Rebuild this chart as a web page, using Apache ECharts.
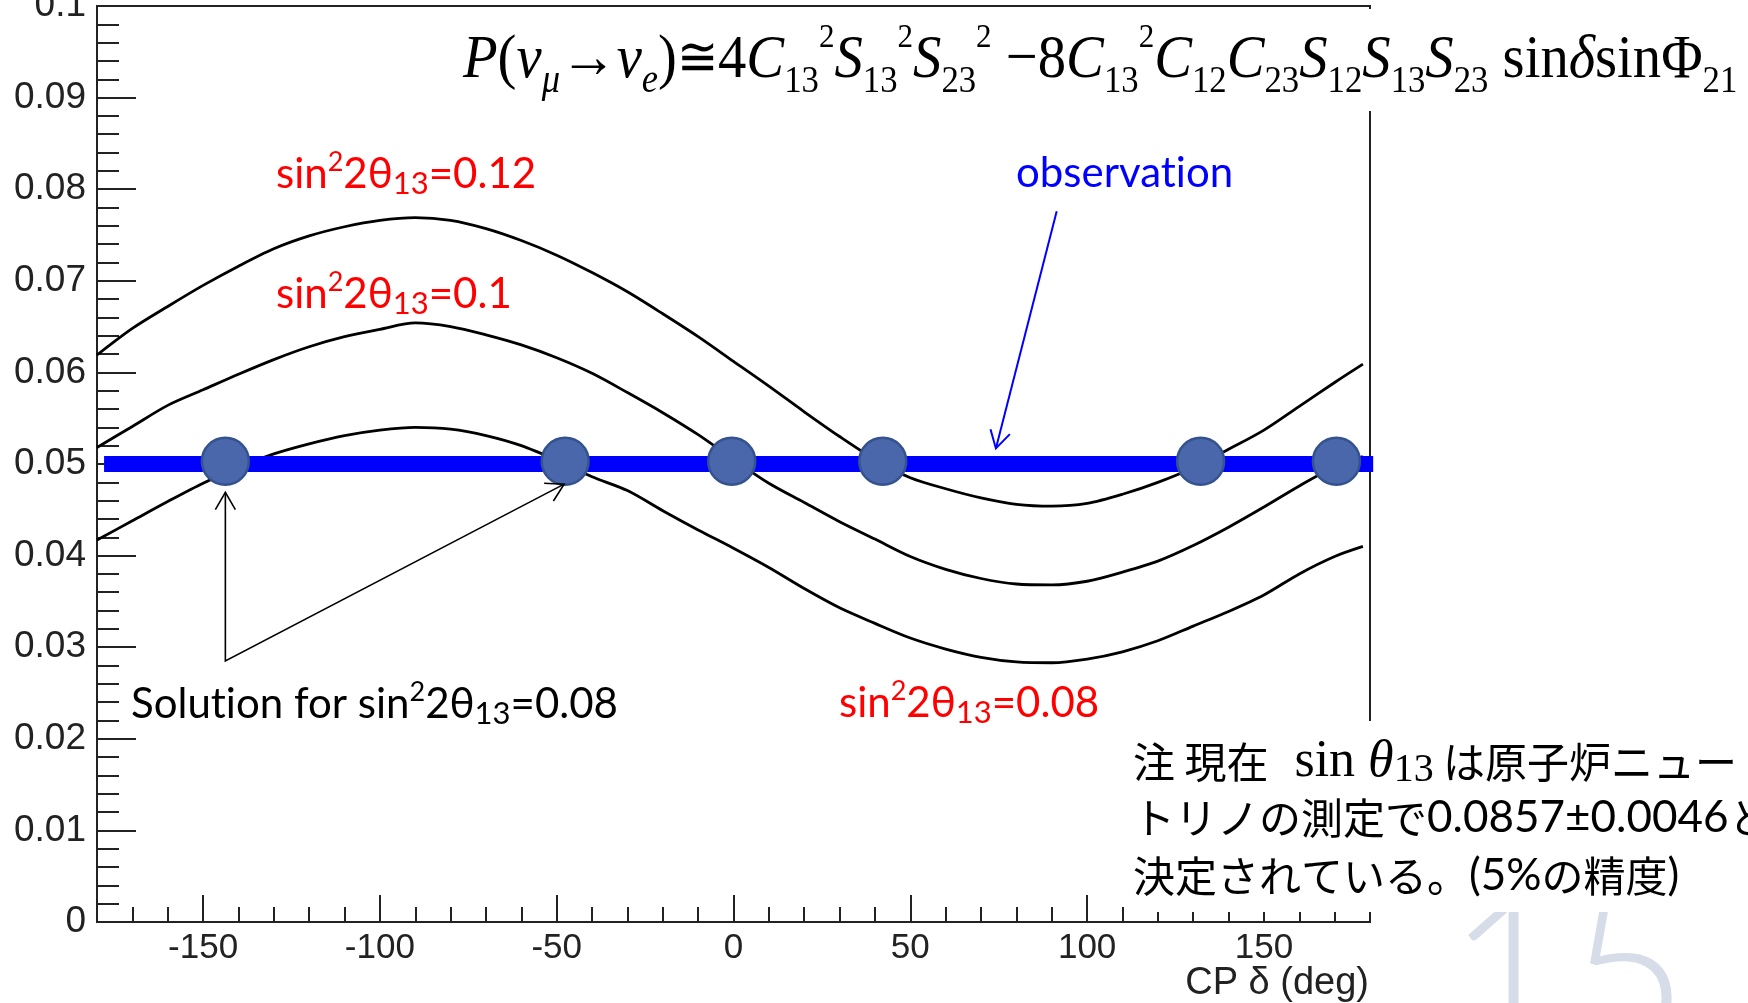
<!DOCTYPE html>
<html><head><meta charset="utf-8">
<script src="https://cdn.jsdelivr.net/npm/echarts@6/dist/echarts.min.js"></script>
<style>html,body{margin:0;padding:0;background:#fff;overflow:hidden}#c{width:1748px;height:1003px}</style>
</head><body><div id="c"></div>
<script>
// ---- data ----
const deltaDeg = [-180,-170,-160,-150,-140,-130,-120,-110,-100,-90,-80,-70,-60,-50,-40,-30,-20,-10,0,10,20,30,40,50,60,70,80,90,100,110,120,130,140,150,160,170,178];
const p012 = [0.0619,0.0648,0.0672,0.0695,0.0716,0.0735,0.0749,0.0759,0.0766,0.0769,0.0766,0.0757,0.0744,0.0728,0.0709,0.0688,0.0664,0.0639,0.0612,0.0585,0.0557,0.0530,0.0505,0.0485,0.0473,0.0463,0.0456,0.0454,0.0457,0.0467,0.0480,0.0496,0.0516,0.0537,0.0563,0.0589,0.0609];
const p010 = [0.0518,0.0541,0.0564,0.0581,0.0598,0.0614,0.0628,0.0639,0.0647,0.0654,0.0650,0.0641,0.0630,0.0616,0.0599,0.0578,0.0556,0.0532,0.0505,0.0479,0.0458,0.0437,0.0418,0.0399,0.0385,0.0375,0.0369,0.0368,0.0372,0.0382,0.0394,0.0411,0.0431,0.0453,0.0476,0.0497,0.0508];
const p008 = [0.0417,0.0438,0.0459,0.0479,0.0496,0.0511,0.0522,0.0531,0.0537,0.0540,0.0538,0.0531,0.0520,0.0504,0.0486,0.0471,0.0449,0.0428,0.0408,0.0387,0.0364,0.0343,0.0326,0.0310,0.0298,0.0289,0.0284,0.0283,0.0287,0.0295,0.0307,0.0323,0.0339,0.0357,0.0380,0.0399,0.0410];
const observedP = 0.05;
const observationSpan = [-178, 180.9];
const solutionDelta = [-143.7, -47.6, -0.5, 42.2, 132.1, 170.5];
const solutionP = 0.0503;
const xMajorTicks = [-150,-100,-50,0,50,100,150];
const xMinorTicks = [-170,-160,-140,-130,-120,-110,-90,-80,-70,-60,-40,-30,-20,-10,10,20,30,40,60,70,80,90,110,120,130,140,160,170];
const yRange = [0, 0.1];
const yStep = 0.01;
// annotation arrows in data coordinates: [tail, tip]
const solutionArrowTail = [-143.7, 0.0285];
const solutionArrowTips = [[-143.7, 0.0469], [-47.9, 0.0478]];
const observationArrow = [[91.4, 0.0776], [74.2, 0.0517]];

const chart = echarts.init(document.getElementById('c'), null, {renderer: 'canvas'});
const axisColor = '#222';
const sansLat = 'Lato, "Noto Sans", sans-serif';
const arial = '"Liberation Sans", Arial, sans-serif';

const option = {
  animation: false,
  backgroundColor: '#fff',
  grid: {left: 97, right: 378, top: 6, bottom: 81, show: true, borderColor: axisColor, borderWidth: 2,
         backgroundColor: 'transparent', containLabel: false, outerBoundsMode: 'none'},
  xAxis: [{
    type: 'value', min: -180, max: 180, position: 'bottom',
    axisLine: {show: true, onZero: false, lineStyle: {color: axisColor, width: 2}},
    axisTick: {show: true, inside: true, length: 27, customValues: xMajorTicks, lineStyle: {color: axisColor, width: 2}},
    axisLabel: {show: true, customValues: xMajorTicks, margin: 9, fontSize: 35, fontFamily: arial, color: axisColor},
    splitLine: {show: false}
  }, {
    type: 'value', min: -180, max: 180, position: 'bottom',
    axisLine: {show: false},
    axisTick: {show: true, inside: true, length: 15, customValues: xMinorTicks, lineStyle: {color: axisColor, width: 2}},
    axisLabel: {show: false},
    splitLine: {show: false}
  }],
  yAxis: {
    type: 'value', min: yRange[0], max: yRange[1], interval: yStep, position: 'left',
    axisLine: {show: true, onZero: false, lineStyle: {color: axisColor, width: 2}},
    axisTick: {show: true, inside: true, length: 39, lineStyle: {color: axisColor, width: 2}},
    minorTick: {show: true, splitNumber: 5, length: 22, lineStyle: {color: axisColor, width: 2}},
    splitLine: {show: false}, minorSplitLine: {show: false},
    axisLabel: {margin: 11, fontSize: 37, fontFamily: arial, color: axisColor,
      formatter: v => (Math.abs(v) < 1e-9 ? '0' : String(+v.toFixed(2)))}
  },
  series: [
    {type: 'line', data: deltaDeg.map((d, i) => [d, p012[i]]), smooth: 0.3, symbol: 'none', lineStyle: {color: '#000', width: 2.8}, z: 2},
    {type: 'line', data: deltaDeg.map((d, i) => [d, p010[i]]), smooth: 0.3, symbol: 'none', lineStyle: {color: '#000', width: 2.8}, z: 2},
    {type: 'line', data: deltaDeg.map((d, i) => [d, p008[i]]), smooth: 0.3, symbol: 'none', lineStyle: {color: '#000', width: 2.8}, z: 2},
    {type: 'line', data: observationSpan.map(d => [d, observedP]), symbol: 'none', clip: false,
     lineStyle: {color: '#0000ff', width: 16, cap: 'butt'}, z: 3},
    {type: 'scatter', data: solutionDelta.map(d => [d, solutionP]), symbol: 'circle', symbolSize: 47,
     itemStyle: {color: '#4a67ab', borderColor: '#34528d', borderWidth: 2.5, opacity: 1}, z: 4}
  ]
};
chart.setOption(option);

function px(p) { return chart.convertToPixel({xAxisIndex: 0, yAxisIndex: 0}, p); }
function head(from, to, color, width) {
  const a = px(from), b = px(to);
  const ang = Math.atan2(b[1] - a[1], b[0] - a[0]), L = 20, h = Math.PI / 6;
  return {type: 'polyline', z: 50, shape: {points: [
    [b[0] - L * Math.cos(ang - h), b[1] - L * Math.sin(ang - h)], b,
    [b[0] - L * Math.cos(ang + h), b[1] - L * Math.sin(ang + h)]]},
    style: {stroke: color, lineWidth: width, fill: null}};
}

// rich styles for "sin^2 2θ_13"
function labelRich(color) {
  return {
    b: {fontFamily: sansLat, fontSize: 42, lineHeight: 50, fill: color},
    sp: {fontFamily: sansLat, fontSize: 27, lineHeight: 36, verticalAlign: 'top', fill: color},
    sb: {fontFamily: sansLat, fontSize: 31, lineHeight: 19, verticalAlign: 'bottom', fill: color}
  };
}
function label(x, baseline, parts, color) {
  return {type: 'text', x: x, y: baseline - 13.8, z: 60,
    style: {text: parts, align: 'left', verticalAlign: 'middle', rich: labelRich(color), fill: color, fontSize: 42, fontFamily: sansLat}};
}
const ZW = '\u200C'; // breaks the "ti" ligature of Lato
const serif = '"Liberation Serif", "Times New Roman", serif';
const fRich = {
  i: {fontFamily: serif, fontStyle: 'italic', fontSize: 62, lineHeight: 80, fill: '#000'},
  r: {fontFamily: serif, fontSize: 62, lineHeight: 80, fill: '#000'},
  q: {fontFamily: '"DejaVu Serif", serif', fontSize: 54, lineHeight: 80, fill: '#000'},
  sb: {fontFamily: serif, fontSize: 38, lineHeight: 34, verticalAlign: 'bottom', fill: '#000'},
  sp: {fontFamily: serif, fontSize: 34, lineHeight: 37, verticalAlign: 'top', fill: '#000'},
  sbi: {fontFamily: serif, fontStyle: 'italic', fontSize: 40, lineHeight: 60, verticalAlign: 'bottom', fill: '#000'}
};
const formula = '{i|P}{r|(}{i|ν}{sbi|μ}{r|→}{i|ν}{sbi|e}{r|)}{q|≅}{r|4}{i|C}{sb|13}{sp|2}{i|S}{sb|13}{sp|2}{i|S}{sb|23}{sp|2}{r| −8}{i|C}{sb|13}{sp|2}{i|C}{sb|12}{i|C}{sb|23}{i|S}{sb|12}{i|S}{sb|13}{i|S}{sb|23}{r| sin}{i|δ}{r|sinΦ}{sb|21}';

const cjk = '"Noto Sans CJK JP", sans-serif';
const nRich = {
  c: {fontFamily: cjk, fontSize: 42, lineHeight: 56, fill: '#000'},
  l: {fontFamily: sansLat, fontSize: 44, lineHeight: 56, fill: '#000'},
  s: {fontFamily: serif, fontSize: 52, lineHeight: 56, fill: '#000'},
  si: {fontFamily: serif, fontStyle: 'italic', fontSize: 52, lineHeight: 56, fill: '#000'},
  ss: {fontFamily: serif, fontSize: 40, lineHeight: 51, verticalAlign: 'bottom', fill: '#000'}
};
function note(y, text) {
  return {type: 'text', x: 1133, y: y, z: 60, style: {text: text, align: 'left', verticalAlign: 'middle', rich: nRich, fontSize: 42, fontFamily: cjk}};
}

const aTail = px(solutionArrowTail), aT1 = px(solutionArrowTips[0]), aT2 = px(solutionArrowTips[1]);
const oA = px(observationArrow[0]), oB = px(observationArrow[1]);

chart.setOption({graphic: [
  // white boxes of the pasted formula / note
  {type: 'rect', z: 40, shape: {x: 452, y: 9, width: 1296, height: 102}, style: {fill: '#fff'}},
  {type: 'rect', z: 40, shape: {x: 1125, y: 721, width: 623, height: 191}, style: {fill: '#fff'}},
  {type: 'text', x: 463, y: 61, scaleX: 0.914, z: 60,
   style: {text: formula, align: 'left', verticalAlign: 'middle', rich: fRich, fontSize: 62, fontFamily: serif}},
  label(276, 188, '{b|sin}{sp|2}{b|2θ}{sb|13}{b|=0.12}', '#ff0000'),
  label(276, 308, '{b|sin}{sp|2}{b|2θ}{sb|13}{b|=0.1}', '#ff0000'),
  label(839, 717, '{b|sin}{sp|2}{b|2θ}{sb|13}{b|=0.08}', '#ff0000'),
  label(1016, 187, '{b|observat' + ZW + 'ion}', '#0000ff'),
  label(131, 718, '{b|Solut' + ZW + 'ion for sin}{sp|2}{b|2θ}{sb|13}{b|=0.08}', '#000'),
  {type: 'polyline', z: 50, shape: {points: [aT1, aTail, aT2]}, style: {stroke: '#000', lineWidth: 1.6, fill: null}},
  head(solutionArrowTail, solutionArrowTips[0], '#000', 1.6),
  head(solutionArrowTail, solutionArrowTips[1], '#000', 1.6),
  {type: 'line', z: 50, shape: {x1: oA[0], y1: oA[1], x2: oB[0], y2: oB[1]}, style: {stroke: '#0000ff', lineWidth: 2}},
  head(observationArrow[0], observationArrow[1], '#0000ff', 2),
  {type: 'text', x: 1369, y: 984, z: 60, style: {text: 'CP δ (deg)', align: 'right', verticalAlign: 'middle',
   fontSize: 38, fontFamily: arial, fill: axisColor}},
  note(762, '{c|注 現在}{s|  sin }{si|θ}{ss|13}{c| は原子炉ニュートリノ}'),
  note(818, '{c|トリノの測定で}{l|0.0857±0.0046}{c|と}'),
  note(876, '{c|決定されている。}{l|(5%}{c|の精度}{l|)}'),
  {type: 'text', x: 1447, y: 874, z: 30, style: {text: '15', align: 'left', verticalAlign: 'top',
   fontSize: 208, fontWeight: 300, fontFamily: sansLat, fill: '#d6dde9'}}
]});
</script>
</body></html>
